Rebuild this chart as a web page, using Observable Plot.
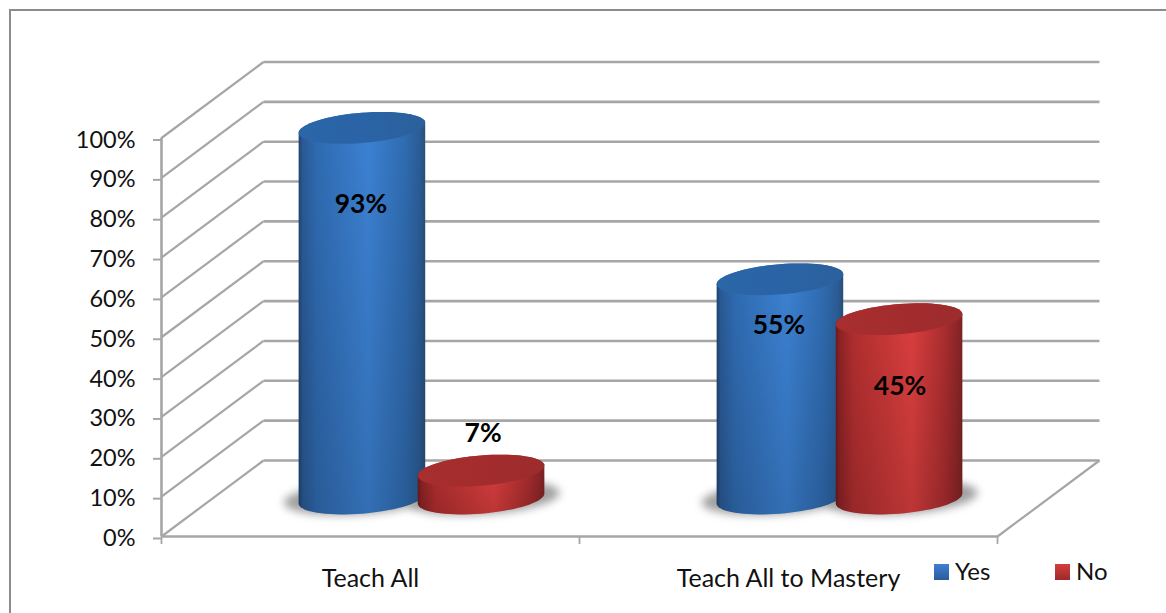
<!DOCTYPE html>
<html>
<head>
<meta charset="utf-8">
<script src="https://cdn.jsdelivr.net/npm/d3@7"></script>
<script src="https://cdn.jsdelivr.net/npm/@observablehq/plot@0.6"></script>
<style>
  html, body { margin: 0; padding: 0; background: #fff; }
  #chart { position: relative; width: 1166px; height: 613px; overflow: hidden; font-family: Lato, sans-serif; }
  #panel { position: absolute; left: 9px; top: 9px; right: -5px; bottom: -5px; border: 2px solid #8c8c8c; pointer-events: none; }
  .key { position: absolute; top: 557px; font-size: 24px; line-height: 28px; color: #111; }
  .key i { position: absolute; top: 7px; left: -21px; width: 15px; height: 16px; }
</style>
</head>
<body>
<div id="chart"><div id="panel"></div></div>
<script>
// Survey shares
const categories = ["Teach All", "Teach All to Mastery"];
const seriesNames = ["Yes", "No"];
const yesValues = [93, 55];
const noValues = [7, 45];
const percentTicks = [0, 10, 20, 30, 40, 50, 60, 70, 80, 90, 100];

// Oblique projection of the chart box, in scale units
const depthX = 0.244;
const depthY = 19.07;
const columnOffset = 0.1425;
const radiusX = 0.1514;
const radiusY = 3.8;
const shear = 1.25;

// Vertical nudge of each value label from the column top, in pixels
const labelNudge = {"Yes|Teach All": 77, "No|Teach All": -37, "Yes|Teach All to Mastery": 46, "No|Teach All to Mastery": 67};
const labelShift = {"Yes|Teach All": -1, "No|Teach All": 2, "Yes|Teach All to Mastery": -1, "No|Teach All to Mastery": 1};

const columns = categories.flatMap((category, i) => [
  {category, series: "Yes", value: yesValues[i], cx: i + 0.5 - columnOffset + depthX / 2, base: depthY / 2},
  {category, series: "No", value: noValues[i], cx: i + 0.5 + columnOffset + depthX / 2, base: depthY / 2}
]);

// One point on the sheared rim ellipse of a column
const rim = (c, level, t) => ({
  x: c.cx + radiusX * Math.cos(t),
  y: c.base + level + shear * Math.cos(t) + radiusY * Math.sin(t)
});
const angles = d3.range(0, 73).map((k) => (k / 72) * 2 * Math.PI);
const half = angles.slice(0, 37);

// Side wall: front arc of the base, then the back arc of the top
const wallOutline = (c) => [
  ...half.map((t) => rim(c, 0, -t)),
  ...half.map((t) => rim(c, c.value, Math.PI - t))
];
const capOutline = (c) => angles.map((t) => rim(c, c.value, t));
const shadowOutline = (c) => angles.map((t) => ({
  x: c.cx + (c.series === "Yes" ? -0.005 : 0.006) + radiusX * 1.2 * Math.cos(t),
  y: c.base + 0.2 + shear * Math.cos(t) + radiusY * 1.1 * Math.sin(t)
}));

// Gradients shared by the column faces
function gradients() {
  const defs = d3.create("svg:defs");
  const linear = (id, stops, vertical) => {
    const g = defs.append("linearGradient").attr("id", id)
      .attr("x1", 0).attr("y1", 0).attr("x2", vertical ? 0 : 1).attr("y2", vertical ? 1 : 0);
    stops.forEach(([o, c, a]) => g.append("stop").attr("offset", o).attr("stop-color", c).attr("stop-opacity", a ?? 1));
  };
  linear("wall-Yes", [[0, "#20426e"], [0.03, "#2a5a95"], [0.14, "#2f6bb2"], [0.55, "#3c82d4"], [0.85, "#2f6bb0"], [0.96, "#2b5c95"], [1, "#294f7c"]]);
  linear("wall-No", [[0, "#6d1a1c"], [0.03, "#8d2325"], [0.14, "#b22e2f"], [0.6, "#dc3f3f"], [0.85, "#ae2e2f"], [0.96, "#8e2628"], [1, "#7c2224"]]);
  linear("shade", [[0, "#000", 0], [1, "#000", 0.15]], true);
  linear("cap-Yes", [[0, "#2b66a9"], [0.5, "#2a64a6"], [1, "#2b609c"]]);
  linear("cap-No", [[0, "#a82e2f"], [0.5, "#a32c2d"], [1, "#9d2c2d"]]);
  return defs.node();
}

const gridColor = "#a6a6a6";
const labelStyle = {fontFamily: "Lato, sans-serif", fontWeight: 700, fontSize: 26.5, fill: "#000"};

const plot = Plot.plot({
  width: 1166,
  height: 613,
  marginLeft: 161,
  marginRight: 169,
  marginTop: 137.5,
  marginBottom: 77,
  style: {fontFamily: "Lato, sans-serif", fontSize: "23px", color: "#111", background: "transparent"},
  x: {domain: [0, 2], axis: null},
  y: {domain: [0, 100], axis: null},
  marks: [
    gradients,
    // Back wall and side wall
    Plot.link(percentTicks, {x1: 0, y1: (d) => d, x2: depthX, y2: (d) => d + depthY, stroke: gridColor, strokeWidth: 2.2}),
    Plot.link(percentTicks, {x1: depthX, y1: (d) => d + depthY, x2: 2 + depthX, y2: (d) => d + depthY, stroke: gridColor, strokeWidth: 2.6}),
    // Floor edges and the vertical axis
    Plot.link([0], {x1: 2, y1: 0, x2: 2 + depthX, y2: depthY, stroke: gridColor, strokeWidth: 2.2}),
    Plot.ruleY([0], {x1: 0, x2: 2, stroke: gridColor, strokeWidth: 2.6}),
    Plot.ruleX([0], {y1: 0, y2: 100, stroke: gridColor, strokeWidth: 2.6}),
    Plot.axisY({
      ticks: percentTicks, tickSize: 8, tickPadding: 18, tickFormat: (d) => `${d}%`, label: null,
      stroke: gridColor, strokeWidth: 2, textStroke: "none", fill: "#111", fontSize: 23.5, dy: 2
    }),
    Plot.axisX({ticks: [0, 1, 2], tickSize: 8, tickFormat: () => "", label: null, stroke: gridColor, strokeWidth: 1.8}),
    Plot.axisX({
      ticks: [0.5, 1.5], tickSize: 0, tickPadding: 33, label: null,
      tickFormat: (d) => categories[Math.floor(d)], fill: "#111", fontSize: 25
    }),
    // Soft floor shadows
    ...columns.map((c) => Plot.line(shadowOutline(c), {
      x: "x", y: "y", fill: "#a0a0a0", stroke: "none", imageFilter: "blur(4px)"
    })),
    // Cylinders, back series first so the red ones overlap the blue ones
    ...columns.flatMap((c) => [
      Plot.line(wallOutline(c), {x: "x", y: "y", fill: `url(#wall-${c.series})`, stroke: "none"}),
      Plot.line(wallOutline(c), {x: "x", y: "y", fill: "url(#shade)", stroke: "none"}),
      Plot.line(capOutline(c), {x: "x", y: "y", fill: `url(#cap-${c.series})`, stroke: "none"})
    ]),
    // Value labels
    ...columns.map((c) => Plot.text([c], {
      x: "cx",
      y: (d) => d.base + d.value,
      text: (d) => `${d.value}%`,
      dy: labelNudge[`${c.series}|${c.category}`],
      dx: labelShift[`${c.series}|${c.category}`],
      ...labelStyle
    }))
  ]
});

const chart = document.getElementById("chart");
chart.append(plot);

// Legend placed over the lower right corner
const keyColors = ["linear-gradient(#3f80d2, #2a5c9c)", "linear-gradient(#d63c3c, #9c2a2b)"];
const keyLefts = [955, 1076];
seriesNames.forEach((name, i) => {
  const key = document.createElement("div");
  key.className = "key";
  key.style.left = keyLefts[i] + "px";
  const swatch = document.createElement("i");
  swatch.style.background = keyColors[i];
  key.append(swatch, name);
  chart.append(key);
});
</script>
</body>
</html>
